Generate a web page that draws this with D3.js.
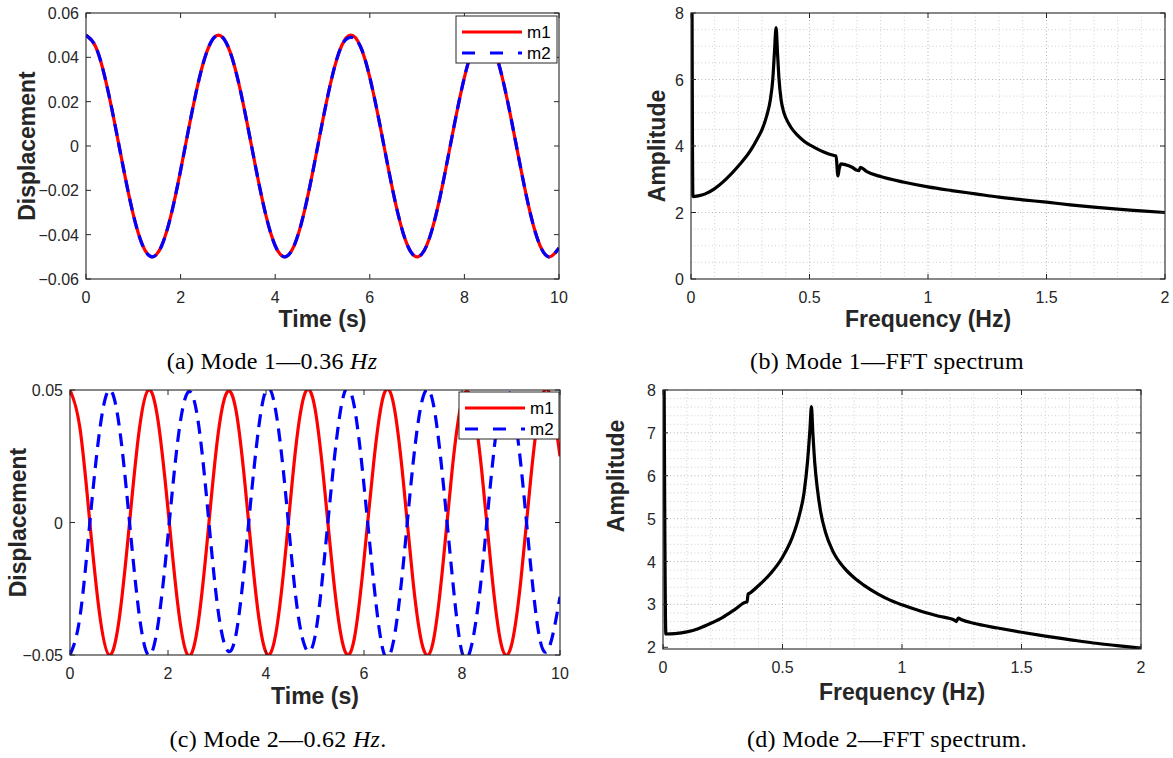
<!DOCTYPE html>
<html><head><meta charset="utf-8">
<script src="https://cdn.jsdelivr.net/npm/d3@7"></script>
<style>body{margin:0;background:#fff} svg{display:block}</style>
</head><body>
<svg id="fig" width="1173" height="758"></svg>
<script>
// ---------- data ----------
const timeS = [0,0.2,0.4,0.6,0.8,1,1.2,1.4,1.6,1.8,2,2.2,2.4,2.6,2.8,3,3.2,3.4,3.6,3.8,4,4.2,4.4,4.6,4.8,5,5.2,5.4,5.6,5.8,6,6.2,6.4,6.6,6.8,7,7.2,7.4,7.6,7.8,8,8.2,8.4,8.6,8.8,9,9.2,9.4,9.6,9.8,10];

const mode1_m1 = [0.050,0.045,0.031,0.011,-0.011,-0.031,-0.045,-0.050,-0.045,-0.031,-0.011,0.011,0.031,0.045,
  0.050,0.045,0.031,0.011,-0.011,-0.031,-0.045,-0.050,-0.045,-0.031,-0.011,0.011,0.031,0.045,
  0.050,0.045,0.031,0.011,-0.011,-0.031,-0.045,-0.050,-0.045,-0.031,-0.011,0.011,0.031,0.045,
  0.050,0.045,0.031,0.011,-0.011,-0.031,-0.045,-0.050,-0.046];
const mode1_m2 = [0.050,0.045,0.031,0.011,-0.011,-0.031,-0.045,-0.050,-0.045,-0.031,-0.011,0.011,0.031,0.045,
  0.050,0.045,0.031,0.011,-0.011,-0.031,-0.045,-0.050,-0.045,-0.031,-0.011,0.011,0.031,0.045,
  0.049,0.045,0.031,0.011,-0.011,-0.031,-0.045,-0.050,-0.045,-0.031,-0.011,0.011,0.031,0.045,
  0.050,0.045,0.031,0.011,-0.011,-0.031,-0.045,-0.050,-0.046];

const mode2_m1 = [0.050,0.036,0.001,-0.034,-0.050,-0.037,-0.003,0.033,0.050,0.038,0.005,-0.031,-0.050,-0.040,-0.007,0.030,0.049,0.041,0.009,-0.028,-0.049,-0.042,-0.011,0.027,0.049,0.043,0.012,-0.025,-0.048,-0.044,-0.014,0.023,0.048,0.045,0.016,-0.022,-0.047,-0.046,-0.018,0.020,0.046,0.046,0.020,-0.018,-0.046,-0.047,-0.022,0.016,0.045,0.048,0.025];
const mode2_m2 = [-0.050,-0.036,-0.001,0.034,0.050,0.037,0.003,-0.033,-0.050,-0.038,-0.005,0.031,0.049,0.040,0.007,-0.030,-0.048,-0.041,-0.009,0.028,0.050,0.042,0.011,-0.027,-0.047,-0.043,-0.012,0.025,0.049,0.044,0.014,-0.023,-0.049,-0.045,-0.016,0.022,0.047,0.046,0.018,-0.020,-0.049,-0.046,-0.020,0.018,0.046,0.047,0.022,-0.016,-0.045,-0.046,-0.028];

const fft1_freq = [0.004,0.008,0.03,0.06,0.1,0.15,0.2,0.25,0.28,0.3,0.32,0.335,0.345,0.352,0.359,0.365,0.371,0.38,0.39,0.40,0.42,0.45,0.48,0.52,0.56,0.60,0.612,0.62,0.625,0.632,0.65,0.68,0.70,0.708,0.715,0.74,0.8,0.9,1.0,1.1,1.2,1.3,1.4,1.5,1.6,1.7,1.8,1.9,2.0];
const fft1_amp  = [9.0,2.48,2.50,2.56,2.72,3.02,3.40,3.85,4.22,4.50,4.92,5.40,6.00,6.80,7.56,6.80,6.05,5.40,5.05,4.85,4.58,4.32,4.13,3.96,3.82,3.72,3.70,3.10,3.30,3.46,3.44,3.36,3.27,3.26,3.36,3.24,3.08,2.91,2.77,2.66,2.56,2.46,2.38,2.31,2.23,2.16,2.10,2.05,2.00];

const fft2_freq = [0.004,0.012,0.05,0.1,0.15,0.2,0.25,0.3,0.345,0.352,0.356,0.365,0.4,0.45,0.5,0.54,0.57,0.59,0.605,0.615,0.621,0.627,0.635,0.646,0.66,0.68,0.71,0.76,0.8,0.84,0.9,0.95,1.0,1.08,1.15,1.22,1.228,1.235,1.25,1.3,1.4,1.5,1.6,1.7,1.8,1.9,2.0];
const fft2_amp  = [9.0,2.31,2.32,2.36,2.44,2.56,2.70,2.88,3.05,3.06,3.24,3.27,3.44,3.72,4.10,4.55,5.07,5.60,6.35,7.10,7.61,7.00,6.30,5.69,5.15,4.68,4.25,3.84,3.62,3.45,3.24,3.10,2.99,2.84,2.73,2.63,2.60,2.68,2.64,2.56,2.45,2.35,2.26,2.18,2.10,2.04,1.98];

const tA_x = [0,2,4,6,8,10], tA_y = [-0.06,-0.04,-0.02,0,0.02,0.04,0.06];
const tB_x = [0,0.5,1,1.5,2], tB_y = [0,2,4,6,8];
const tC_x = [0,2,4,6,8,10], tC_y = [-0.05,0,0.05];
const tD_x = [0,0.5,1,1.5,2], tD_y = [2,3,4,5,6,7,8];
const seriesNames = ["m1","m2"];

// ---------- drawing ----------
const svg = d3.select("#fig");
const AX = "#262626";
const SANS = "'Liberation Sans', Arial, Helvetica, sans-serif";
const SERIF = "'Liberation Serif', 'Times New Roman', serif";

function panel(id, box, xDom, yDom, xt, yt, xfmt, yfmt, opts) {
  const x = d3.scaleLinear().domain(xDom).range([box.l, box.r]);
  const y = d3.scaleLinear().domain(yDom).range([box.b, box.t]);
  const g = svg.append("g");
  g.append("clipPath").attr("id", "clip" + id).append("rect")
    .attr("x", box.l).attr("y", box.t).attr("width", box.r - box.l).attr("height", box.b - box.t);
  g.append("rect").attr("x", box.l).attr("y", box.t).attr("width", box.r - box.l)
    .attr("height", box.b - box.t).attr("fill", "#fff");
  if (opts.grid) {
    const gg = g.append("g");
    opts.gridX.forEach(v => gg.append("line").attr("x1", x(v)).attr("x2", x(v)).attr("y1", box.t).attr("y2", box.b)
      .attr("stroke", xt.some(t => Math.abs(t - v) < 1e-9) ? "#b4b4b4" : "#cfcfcf").attr("stroke-width", 1).attr("stroke-dasharray", "1,2.5"));
    opts.gridY.forEach(v => gg.append("line").attr("y1", y(v)).attr("y2", y(v)).attr("x1", box.l).attr("x2", box.r)
      .attr("stroke", yt.some(t => Math.abs(t - v) < 1e-9) ? "#b4b4b4" : "#cfcfcf").attr("stroke-width", 1).attr("stroke-dasharray", "1,2.5"));
  }
  const cg = g.append("g").attr("clip-path", "url(#clip" + id + ")");
  opts.series.forEach(s => {
    const line = d3.line().x(d => x(d[0])).y(d => y(d[1])).curve(s.curve);
    cg.append("path").datum(d3.zip(s.x, s.y)).attr("d", line)
      .attr("fill", "none").attr("stroke", s.color).attr("stroke-width", s.w)
      .attr("stroke-dasharray", s.dash || null).attr("stroke-linejoin", "round");
  });
  // box
  g.append("rect").attr("x", box.l).attr("y", box.t).attr("width", box.r - box.l)
    .attr("height", box.b - box.t).attr("fill", "none").attr("stroke", AX).attr("stroke-width", 1.1);
  const tl = 5;
  xt.forEach(v => {
    g.append("line").attr("x1", x(v)).attr("x2", x(v)).attr("y1", box.b).attr("y2", box.b - tl).attr("stroke", AX);
    g.append("line").attr("x1", x(v)).attr("x2", x(v)).attr("y1", box.t).attr("y2", box.t + tl).attr("stroke", AX);
    g.append("text").attr("x", x(v)).attr("y", box.b + 24).attr("text-anchor", "middle")
      .attr("font-family", SANS).attr("font-size", 16).attr("fill", AX).text(xfmt(v));
  });
  yt.forEach(v => {
    g.append("line").attr("y1", y(v)).attr("y2", y(v)).attr("x1", box.l).attr("x2", box.l + tl).attr("stroke", AX);
    g.append("line").attr("y1", y(v)).attr("y2", y(v)).attr("x1", box.r).attr("x2", box.r - tl).attr("stroke", AX);
    g.append("text").attr("x", box.l - 7).attr("y", y(v) + 6).attr("text-anchor", "end")
      .attr("font-family", SANS).attr("font-size", 16).attr("fill", AX).text(yfmt(v));
  });
  g.append("text").attr("x", (box.l + box.r) / 2).attr("y", opts.xLabelY).attr("text-anchor", "middle")
    .attr("font-family", SANS).attr("font-weight", "bold").attr("font-size", 23).attr("fill", AX).text(opts.xLabel);
  const yLabelY = opts.yLabelY != null ? opts.yLabelY : (box.t + box.b) / 2;
  g.append("text").attr("transform", `translate(${opts.yLabelX},${yLabelY}) rotate(-90)`)
    .attr("text-anchor", "middle").attr("dy", "0.36em")
    .attr("font-family", SANS).attr("font-weight", "bold").attr("font-size", 23).attr("fill", AX).text(opts.yLabel);
  if (opts.legend) {
    const L = opts.legend;
    const lg = g.append("g");
    lg.append("rect").attr("x", L.x).attr("y", L.y).attr("width", L.w).attr("height", L.h)
      .attr("fill", "#fff").attr("stroke", AX).attr("stroke-width", 1);
    opts.series.forEach((s, i) => {
      const yy = L.y + 16 + i * 21;
      lg.append("line").attr("x1", L.x + 6).attr("x2", L.x + 66).attr("y1", yy).attr("y2", yy)
        .attr("stroke", s.color).attr("stroke-width", s.w).attr("stroke-dasharray", s.dash ? "13,15" : null);
      lg.append("text").attr("x", L.x + 71).attr("y", yy + 6).attr("font-family", SANS)
        .attr("font-size", 17).attr("fill", "#000").text(seriesNames[i]);
    });
  }
}

const fmt2 = v => v === 0 ? "0" : d3.format(".2f")(v);
const fmtG = v => String(v);

panel("A", {l:86, r:559, t:13, b:279}, [0,10], [-0.06,0.06], tA_x, tA_y, fmtG, fmt2, {
  series: [
    {x: timeS, y: mode1_m1, color: "#ff0000", w: 3.2, curve: d3.curveNatural},
    {x: timeS, y: mode1_m2, color: "#0000ff", w: 3.2, dash: "12,7", curve: d3.curveNatural}
  ],
  xLabel: "Time (s)", xLabelY: 327, yLabel: "Displacement", yLabelX: 27,
  legend: {x: 456, y: 16, w: 101, h: 47}
});

panel("B", {l:691, r:1165, t:13, b:279}, [0,2], [0,8], tB_x, tB_y, fmtG, fmtG, {
  grid: true, gridX: d3.range(1, 20).map(i => i / 10), gridY: d3.range(1, 16).map(i => i / 2),
  series: [{x: fft1_freq, y: fft1_amp, color: "#000", w: 3.2, curve: d3.curveMonotoneX}],
  xLabel: "Frequency (Hz)", xLabelY: 327, yLabel: "Amplitude", yLabelX: 657
});

panel("C", {l:70, r:560, t:390, b:655}, [0,10], [-0.05,0.05], tC_x, tC_y, fmtG, fmt2, {
  series: [
    {x: timeS, y: mode2_m1, color: "#ff0000", w: 3.2, curve: d3.curveNatural},
    {x: timeS, y: mode2_m2, color: "#0000ff", w: 3.2, dash: "13,8", curve: d3.curveNatural}
  ],
  xLabel: "Time (s)", xLabelY: 704, yLabel: "Displacement", yLabelX: 18,
  legend: {x: 459, y: 392, w: 100, h: 47}
});

panel("D", {l:663, r:1141, t:390, b:649}, [0,2], [1.96,8], tD_x, tD_y, fmtG, fmtG, {
  grid: true, gridX: d3.range(1, 20).map(i => i / 10), gridY: d3.range(11, 40).map(i => i / 5),
  series: [{x: fft2_freq, y: fft2_amp, color: "#000", w: 3.2, curve: d3.curveMonotoneX}],
  xLabel: "Frequency (Hz)", xLabelY: 700, yLabel: "Amplitude", yLabelX: 616, yLabelY: 476
});

// captions
function caption(cx, cy, parts) {
  const t = svg.append("text").attr("x", cx).attr("y", cy).attr("text-anchor", "middle")
    .attr("font-family", SERIF).attr("font-size", 24).attr("letter-spacing", "0.3px").attr("fill", "#000");
  parts.forEach(p => t.append("tspan").attr("font-style", p[1] ? "italic" : null).text(p[0]));
}
caption(272, 369, [["(a) Mode 1\u20140.36 ", false], ["Hz", true]]);
caption(887, 369, [["(b) Mode 1\u2014FFT spectrum", false]]);
caption(278, 747, [["(c) Mode 2\u20140.62 ", false], ["Hz", true], [".", false]]);
caption(887, 747, [["(d) Mode 2\u2014FFT spectrum.", false]]);
</script>
</body></html>
